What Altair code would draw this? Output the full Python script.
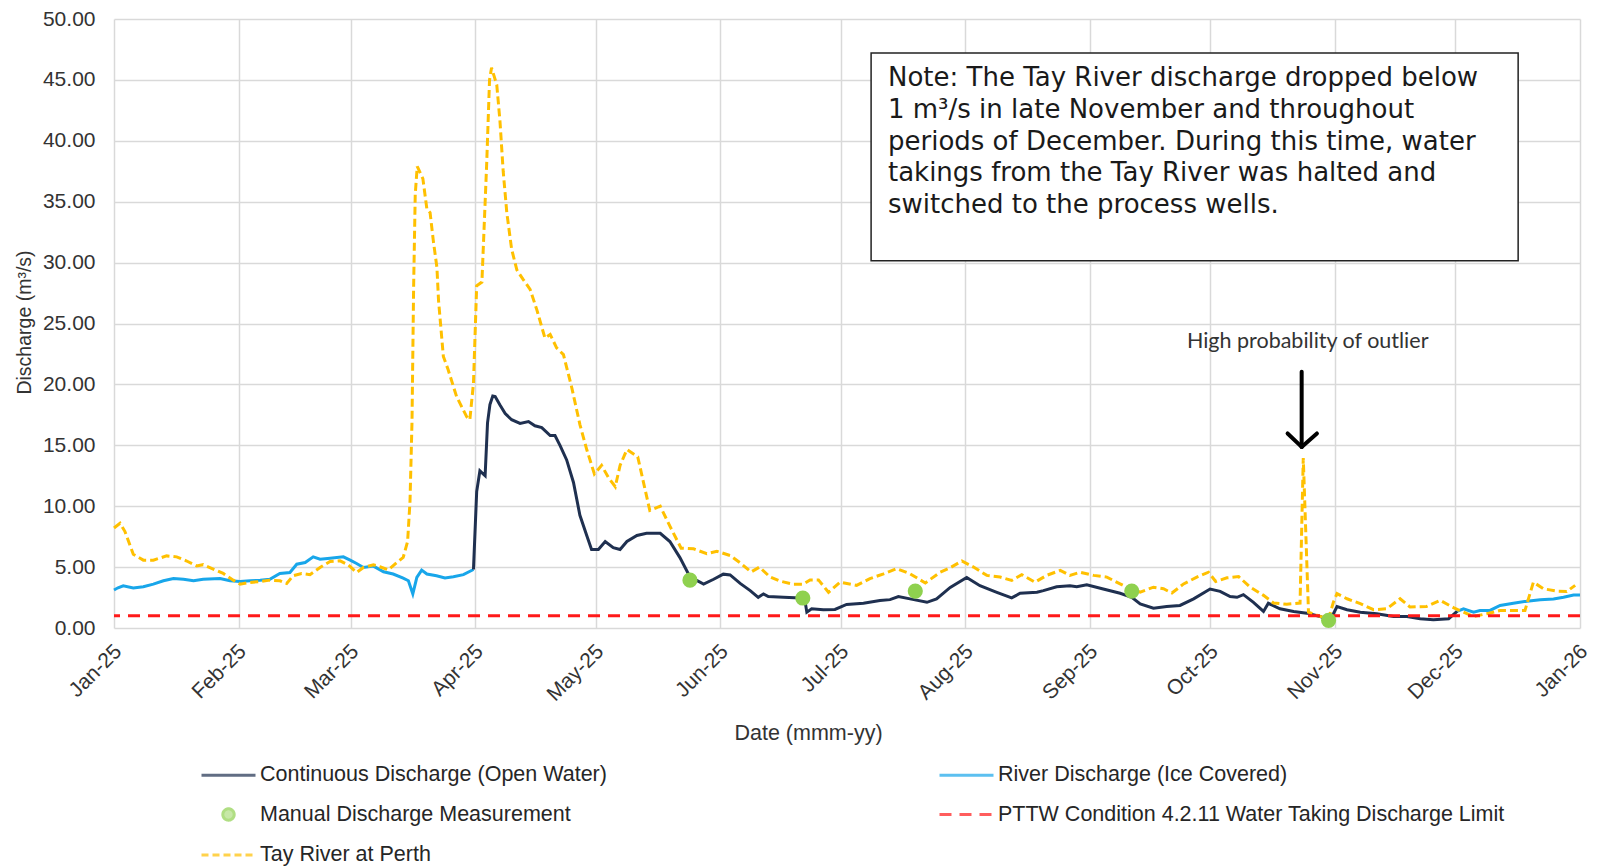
import altair as alt
import pandas as pd

# ---------------- data (day = days since 2025-01-01) ----------------
ice_a_day = [0, 1, 2.3, 4.8, 7.3, 9.8, 12.3, 14.8, 17.3, 19.8, 22.2, 26.4, 28.9, 31.4, 33.9, 36.4,
             38.8, 41.3, 43.8, 45.5, 47.6, 49.6, 51.3, 53.8, 57.1, 58.8, 60.4, 62.1, 64.6, 67.1,
             69.5, 72.0, 73.3, 74.4, 75.4, 76.6, 77.9, 80.3, 82.4, 84.5, 87.0, 89.5]
ice_a_q = [3.12, 3.3, 3.47, 3.28, 3.39, 3.6, 3.88, 4.07, 4.0, 3.88, 4.0, 4.07, 3.88, 3.82, 3.88, 3.93,
           4.0, 4.48, 4.56, 5.24, 5.38, 5.84, 5.65, 5.73, 5.84, 5.57, 5.3, 4.97, 5.08, 4.62,
           4.43, 4.1, 3.88, 2.8, 4.16, 4.75, 4.43, 4.29, 4.1, 4.21, 4.38, 4.8]
ice_b_day = [334.4, 336.0, 338.5, 340.1, 342.6, 345.1, 348.4, 351.8, 355.1, 358.4, 360.9, 363.4, 365.0]
ice_b_q = [1.36, 1.58, 1.3, 1.44, 1.44, 1.85, 2.03, 2.2, 2.31, 2.39, 2.52, 2.71, 2.71]

open_day = [89.5, 90.3, 91.1, 92.4, 93.0, 93.6, 94.3, 94.9, 96.1, 97.4, 99.0, 101.1, 103.2, 104.8,
            106.5, 108.6, 109.8, 111.1, 112.7, 114.4, 116.0, 117.7, 118.9, 120.6, 122.3, 124.3,
            126.0, 127.7, 130.2, 132.6, 136.0, 138.4, 140.9, 143.4, 146.8, 149.3, 151.7, 153.4,
            155.9, 158.4, 160.4, 161.7, 162.9, 166.7, 170.8, 172.1, 172.5, 173.7, 176.6, 179.5,
            182.4, 186.6, 190.7, 193.2, 195.3, 198.2, 202.4, 204.8, 208.2, 212.3, 215.6, 219.8,
            223.5, 225.6, 229.8, 231.4, 234.7, 238.0, 239.7, 242.2, 246.3, 250.5, 253.4, 255.5,
            258.8, 262.1, 265.4, 268.8, 272.9, 275.4, 277.9, 279.6, 281.2, 283.7, 286.2, 287.4,
            290.3, 293.7, 297.0, 300.3, 302.0, 303.6, 304.5, 307.0, 310.3, 314.4, 318.6, 321.9,
            325.2, 328.5, 332.3, 334.4]
open_q = [4.8, 11.2, 12.9, 12.5, 16.85, 18.35, 19.05, 19.0, 18.3, 17.6, 17.1, 16.8, 16.95, 16.6,
          16.45, 15.8, 15.8, 14.95, 13.8, 11.95, 9.25, 7.6, 6.45, 6.45, 7.1, 6.6,
          6.45, 7.1, 7.6, 7.78, 7.78, 7.1, 5.78, 4.2, 3.6, 4.0, 4.42, 4.36,
          3.66, 3.07, 2.52, 2.8, 2.58, 2.52, 2.47, 2.11, 1.3, 1.58, 1.5, 1.52,
          1.93, 2.03, 2.25, 2.33, 2.58, 2.39, 2.11, 2.39, 3.33, 4.15, 3.47, 2.93,
          2.47, 2.85, 2.93, 3.07, 3.39, 3.47, 3.39, 3.55, 3.2, 2.85, 2.52, 1.98,
          1.63, 1.76, 1.85, 2.39, 3.2, 3.01, 2.58, 2.52, 2.74, 2.11, 1.36, 2.03,
          1.58, 1.36, 1.22, 0.95, 0.68, 1.17, 1.76, 1.5, 1.3, 1.17, 0.95, 0.95,
          0.76, 0.68, 0.76, 1.36]

tay_day = [0, 1.5, 2.7, 4.8, 7.3, 9.8, 13.1, 15.6, 18.1, 20.6, 22.2, 24.7, 27.2, 29.7, 31.4, 33.9,
           36.4, 38.8, 41.3, 43.0, 44.6, 46.7, 48.8, 51.3, 53.8, 56.3, 58.3, 60.4, 62.1, 64.6,
           66.2, 68.3, 70.4, 72.0, 73.1, 73.7, 74.2, 74.6, 75.0, 75.5, 76.9, 77.9, 78.7, 79.5,
           80.4, 80.8, 82.0, 83.2, 85.3, 87.8, 88.6, 89.5, 90.3, 91.6, 92.8, 93.5, 94.0, 95.3,
           96.1, 96.9, 97.8, 99.0, 100.3, 101.9, 103.6, 105.3, 107.3, 108.6, 110.2, 111.9,
           114.0, 116.0, 117.7, 119.6, 121.4, 123.1, 124.8, 126.0, 127.7, 130.4, 131.8, 133.4,
           136.0, 138.5, 141.2, 144.3, 147.6, 150.1, 153.4, 156.1, 158.6, 160.7, 163.3, 165.8,
           169.1, 171.6, 173.3, 175.4, 177.9, 180.8, 184.9, 188.2, 191.6, 194.9, 198.2, 202.0,
           205.7, 208.2, 211.1, 214.0, 217.3, 220.6, 223.5, 226.0, 229.3, 232.2, 235.6, 238.0,
           240.5, 243.9, 247.2, 250.5, 253.0, 255.5, 258.8, 261.3, 263.4, 266.3, 269.6, 272.5,
           274.3, 277.1, 280.0, 282.9, 286.2, 288.7, 292.0, 295.3, 296.1, 297.4, 300.3, 302.4,
           303.6, 304.5, 307.0, 310.3, 313.6, 316.9, 320.2, 322.7, 326.8, 330.2, 333.5, 336.0,
           338.5, 341.8, 345.1, 348.4, 351.3, 353.4, 355.9, 359.3, 361.7, 363.8]
tay_q = [8.21, 8.6, 7.94, 6.05, 5.57, 5.57, 5.92, 5.84, 5.5, 5.1, 5.2, 4.84, 4.48, 3.93, 3.6, 3.74,
         3.82, 3.93, 3.88, 3.66, 4.29, 4.48, 4.38, 4.97, 5.46, 5.51, 5.19, 4.56, 4.97, 5.19,
         5.03, 4.78, 5.38, 5.79, 7.1, 10.4, 17.0, 28.0, 35.6, 37.9, 36.9, 34.4, 34.1, 31.8,
         29.6, 26.9, 22.3, 21.2, 19.0, 17.35, 17.1, 20.1, 28.1, 28.4, 38.2, 45.0, 46.0, 44.6,
         41.6, 37.5, 34.1, 31.1, 29.4, 28.6, 27.8, 26.1, 23.8, 24.1, 23.0, 22.45,
         19.7, 16.7, 14.65, 12.65, 13.35, 12.35, 11.6, 13.35, 14.65, 14.05, 12.0, 9.65,
         10.0, 8.3, 6.55, 6.5, 6.1, 6.3, 5.95, 5.3, 4.6, 5.0, 4.2, 3.85,
         3.6, 3.6, 3.95, 3.95, 2.93, 3.76, 3.5, 4.05, 4.45, 4.87, 4.45, 3.7,
         4.58, 4.95, 5.5, 5.0, 4.32, 4.18, 3.9, 4.38, 3.76, 4.32, 4.73, 4.32,
         4.58, 4.32, 4.18, 3.62, 3.22, 2.95, 3.35, 3.22, 2.87, 3.62, 4.18, 4.58,
         3.82, 4.12, 4.22, 3.35, 2.68, 2.05, 1.95, 2.05, 13.95, 1.3, 0.95, 0.76,
         2.12, 2.82, 2.4, 2.0, 1.5, 1.58, 2.4, 1.72, 1.77, 2.27, 1.67, 1.3,
         0.95, 1.17, 1.44, 1.44, 1.44, 3.76, 3.22, 3.03, 3.0, 3.5]

manual_day = [143.4, 171.5, 199.5, 253.4, 302.4]
manual_q = [3.93, 2.46, 3.03, 3.03, 0.63]

limit_q = [1.0]

month_ticks = list(range(1, 13))

note_lines = ["Note: The Tay River discharge dropped below",
              "1 m\u00b3/s in late November and throughout",
              "periods of December. During this time, water",
              "takings from the Tay River was halted and",
              "switched to the process wells."]
note_line_q = [45.14, 42.54, 39.93, 37.34, 34.73]
note_text_day = [192.7]
note_box_day = [188.5, 349.6]
note_box_q = [47.2, 30.16]

outlier_text = ["High probability of outlier"]
outlier_text_day = [297.2]
outlier_text_q = [23.45]
arrow_day0 = [295.7, 292.2, 299.5]
arrow_q0 = [21.04, 15.97, 15.97]
arrow_day1 = [295.7, 295.7, 295.7]
arrow_q1 = [14.87, 14.87, 14.87]

# legend entries, in the order the legend grid fills (column by column)
legend_names = ["Continuous Discharge (Open Water)", "Manual Discharge Measurement",
                "Tay River at Perth", "River Discharge (Ice Covered)",
                "PTTW Condition 4.2.11 Water Taking Discharge Limit"]

NAVY = "#1f3050"
BLUE = "#18a6ea"
GREEN = "#8fd14f"
RED = "#ff1a1a"
YELLOW = "#ffc000"
legend_colors = [NAVY, GREEN, YELLOW, BLUE, RED]
LINE_SYM = "M-2,0H2"
CIRC_SYM = "M-0.42,0A0.42,0.42 0 1,0 0.42,0A0.42,0.42 0 1,0 -0.42,0Z"
legend_shapes = [LINE_SYM, CIRC_SYM, LINE_SYM, LINE_SYM, LINE_SYM]
legend_dashes = [[1, 0], [1, 0], [7, 4], [1, 0], [12, 8]]

# ---------------- helpers ----------------
T0 = pd.Timestamp("2025-01-01")


def to_date(days):
    return [T0 + pd.Timedelta(days=float(d)) for d in days]


ice_df = pd.DataFrame({"date": to_date(ice_a_day + ice_b_day),
                       "q": ice_a_q + ice_b_q,
                       "seg": ["a"] * len(ice_a_day) + ["b"] * len(ice_b_day)})
open_df = pd.DataFrame({"date": to_date(open_day), "q": open_q})
tay_df = pd.DataFrame({"date": to_date(tay_day), "q": tay_q})
manual_df = pd.DataFrame({"date": to_date(manual_day), "q": manual_q})
limit_df = pd.DataFrame({"q": limit_q})
note_df = pd.DataFrame({"date": to_date(note_text_day * len(note_lines)),
                        "q": note_line_q, "txt": note_lines})
box_df = pd.DataFrame({"date": to_date([note_box_day[0]]), "date2": to_date([note_box_day[1]]),
                       "q": [note_box_q[0]], "q2": [note_box_q[1]]})
out_df = pd.DataFrame({"date": to_date(outlier_text_day), "q": outlier_text_q, "txt": outlier_text})
arrow_df = pd.DataFrame({"date": to_date(arrow_day0), "q": arrow_q0,
                         "date2": to_date(arrow_day1), "q2": arrow_q1})
legend_df = pd.DataFrame({"item": legend_names})

FONT = "Liberation Sans"
TXT = "#333333"

xscale = alt.Scale(domain=[alt.DateTime(year=2025, month=1, date=1),
                           alt.DateTime(year=2026, month=1, date=1)], nice=False)
yscale = alt.Scale(domain=[0, 50], nice=False)

x_axis = alt.Axis(values=[alt.DateTime(year=2025, month=m, date=1) for m in month_ticks]
                  + [alt.DateTime(year=2026, month=1, date=1)],
                  format="%b-%y", labelAngle=-45, labelAlign="right", labelBaseline="middle",
                  labelPadding=20, labelOffset=4, labelFont=FONT, labelFontSize=21,
                  labelColor=TXT, labelOverlap=False, labelBound=False, grid=True,
                  gridColor="#d9d9d9", gridWidth=1.5, domain=False, ticks=False,
                  title="Date (mmm-yy)", titleFont=FONT, titleFontSize=21.5,
                  titleFontWeight="normal", titleColor=TXT,
                  titleX=694, titleY=105, titleAlign="center", titleBaseline="middle")
y_axis = alt.Axis(values=[0, 5, 10, 15, 20, 25, 30, 35, 40, 45, 50], format=".2f",
                  labelFont=FONT, labelFontSize=21, labelColor=TXT, labelPadding=19,
                  grid=True, gridColor="#d9d9d9", gridWidth=1.5, domain=False, ticks=False,
                  title="Discharge (m\u00b3/s)", titleFont=FONT, titleFontSize=19.5,
                  titleFontWeight="normal", titleColor=TXT, titleAngle=270,
                  titleX=-90, titleY=303, titleAlign="center", titleBaseline="middle")


def X(field="date"):
    return alt.X(field, type="temporal", scale=xscale, axis=x_axis)


def Y(field="q"):
    return alt.Y(field, type="quantitative", scale=yscale, axis=y_axis)


ice = alt.Chart(ice_df).mark_line(color=BLUE, strokeWidth=3).encode(
    x=X(), y=Y(), detail="seg:N")
opn = alt.Chart(open_df).mark_line(color=NAVY, strokeWidth=3).encode(x=X(), y=Y())
tay = alt.Chart(tay_df).mark_line(color=YELLOW, strokeWidth=3, strokeDash=[8, 4]).encode(
    x=X(), y=Y())
limit = alt.Chart(limit_df).mark_rule(color=RED, strokeWidth=3, strokeDash=[12, 8]).encode(y=Y())
manual = alt.Chart(manual_df).mark_circle(size=230, color=GREEN, opacity=1).encode(x=X(), y=Y())

box = alt.Chart(box_df).mark_rect(fill="white", stroke="#222222", strokeWidth=1.5).encode(
    x=X(), x2="date2", y=Y(), y2="q2")
note = alt.Chart(note_df).mark_text(align="left", baseline="middle", font="DejaVu Sans",
                                    fontSize=26, color="#1a1a1a").encode(x=X(), y=Y(), text="txt")
out_txt = alt.Chart(out_df).mark_text(align="center", baseline="middle", font="Lato",
                                      fontSize=21.5, color="#333333").encode(x=X(), y=Y(), text="txt")
arrow = alt.Chart(arrow_df).mark_rule(color="black", strokeWidth=4, strokeCap="round").encode(
    x=X(), x2="date2", y=Y(), y2="q2")

leg = alt.Legend(title=None, orient="none", legendX=99.5, legendY=741, columns=2,
                 columnPadding=326, rowPadding=13.5, symbolSize=729, symbolStrokeWidth=3,
                 labelOffset=16.5, labelFont=FONT, labelFontSize=21.5, labelColor="#262626",
                 labelLimit=800, padding=0)
legend_layer = alt.Chart(legend_df).mark_point(filled=True, clip=True, strokeWidth=3).encode(
    x=alt.value(-200), y=alt.value(-200),
    shape=alt.Shape("item:N", scale=alt.Scale(domain=legend_names, range=legend_shapes), legend=leg),
    fill=alt.Fill("item:N", scale=alt.Scale(domain=legend_names, range=legend_colors), legend=leg),
    stroke=alt.Stroke("item:N", scale=alt.Scale(domain=legend_names, range=legend_colors), legend=leg),
    strokeDash=alt.StrokeDash("item:N", scale=alt.Scale(domain=legend_names, range=legend_dashes),
                              legend=leg),
)

chart = alt.layer(ice, opn, tay, limit, manual, box, note, out_txt, arrow, legend_layer).properties(
    width=1466, height=609,
    autosize=alt.AutoSizeParams(type="none"),
    padding={"left": 106, "top": 11, "right": 13, "bottom": 238},
    background="white",
).configure_view(strokeWidth=0)

chart.save("out.html", embed_options={"renderer": "svg", "actions": False})
